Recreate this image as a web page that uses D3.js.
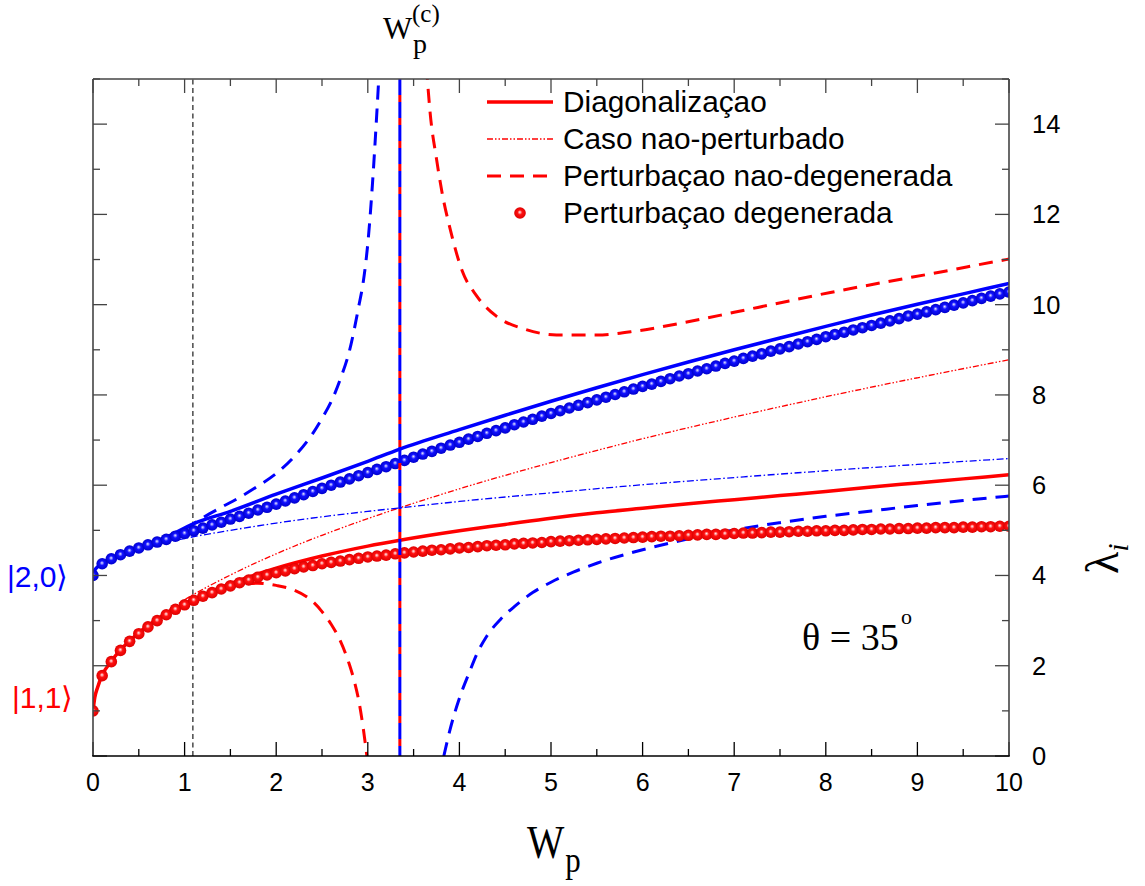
<!DOCTYPE html>
<html><head><meta charset="utf-8">
<script src="https://cdn.jsdelivr.net/npm/d3@7"></script>
<style>body{margin:0;background:#fff}svg{display:block}</style>
</head><body><div id="chart"></div>
<script>
// ---------- data ----------
const W_UNPERT = [0,0.05,0.1,0.2,0.3,0.5,0.75,1,1.5,2,2.5,3,3.5,4,5,6,7,8,9,10];
const L11_UNPERT = [1.00,1.55,1.78,2.10,2.35,2.74,3.13,3.46,4.01,4.48,4.89,5.26,5.60,5.92,6.50,7.03,7.51,7.96,8.38,8.78];
const L20_UNPERT = [4.00,4.18,4.26,4.37,4.45,4.58,4.71,4.82,5.00,5.16,5.30,5.42,5.53,5.64,5.83,6.01,6.17,6.32,6.46,6.59];

const W_DIAG = [0,0.02,0.05,0.1,0.2,0.3,0.5,0.8,1.1,1.5,2,2.5,3,3.35,4,4.5,5,5.5,6,6.5,7,7.5,8,8.5,9,9.5,10];
const L20_DIAG = [4.00,4.12,4.19,4.27,4.38,4.47,4.62,4.85,5.15,5.42,5.80,6.16,6.53,6.80,7.23,7.55,7.86,8.16,8.45,8.73,9.00,9.26,9.52,9.77,10.01,10.24,10.47];
const L11_DIAG = [1.00,1.30,1.52,1.79,2.10,2.35,2.73,3.15,3.47,3.82,4.16,4.43,4.65,4.78,4.99,5.13,5.27,5.39,5.49,5.59,5.68,5.77,5.86,5.96,6.05,6.14,6.23];

const W_ND11_LOW = [1.0,1.2,1.5,1.8,2.0,2.2,2.4,2.5,2.6,2.7,2.8,2.85,2.9,2.95,2.99];
const L_ND11_LOW = [3.33,3.50,3.74,3.83,3.78,3.67,3.42,3.20,2.92,2.55,2.02,1.68,1.24,0.62,0.0];
const W_ND11_UP = [3.62,3.65,3.68,3.75,3.81,3.90,4.03,4.19,4.40,4.71,5.06,5.50,5.94,6.47,7.0,7.52,8.05,8.62,9.27,9.89,10];
const L_ND11_UP = [15.8,15.0,14.26,13.23,12.49,11.67,10.75,10.19,9.75,9.46,9.33,9.33,9.42,9.61,9.83,10.05,10.27,10.49,10.73,10.97,11.01];
const W_ND20_UP = [1.0,1.2,1.4,1.6,1.8,2.0,2.2,2.4,2.5,2.6,2.7,2.8,2.9,2.95,3.0,3.05,3.1,3.13];
const L_ND20_UP = [5.02,5.28,5.51,5.73,5.98,6.26,6.64,7.15,7.48,7.85,8.35,8.98,9.95,10.5,11.35,12.65,14.3,15.4];
const W_ND20_LOW = [3.83,3.9,4.0,4.1,4.2,4.3,4.45,4.6,4.8,5.0,5.25,5.5,6.0,6.5,7.0,7.5,8.0,8.5,9.0,9.5,10];
const L_ND20_LOW = [0.0,0.60,1.28,1.81,2.30,2.66,3.03,3.31,3.62,3.85,4.08,4.27,4.57,4.81,5.01,5.17,5.31,5.43,5.55,5.66,5.76];

const W_DEG = [0,0.1,0.2,0.3,0.4,0.5,0.6,0.7,0.8,0.9,1,1.1,1.2,1.3,1.4,1.5,1.6,1.7,1.8,1.9,2,2.1,2.2,2.3,2.4,2.5,2.6,2.7,2.8,2.9,3,3.1,3.2,3.3,3.4,3.5,3.6,3.7,3.8,3.9,4,4.1,4.2,4.3,4.4,4.5,4.6,4.7,4.8,4.9,5,5.1,5.2,5.3,5.4,5.5,5.6,5.7,5.8,5.9,6,6.1,6.2,6.3,6.4,6.5,6.6,6.7,6.8,6.9,7,7.1,7.2,7.3,7.4,7.5,7.6,7.7,7.8,7.9,8,8.1,8.2,8.3,8.4,8.5,8.6,8.7,8.8,8.9,9,9.1,9.2,9.3,9.4,9.5,9.6,9.7,9.8,9.9,10];
const L20_DEG = [4.00,4.26,4.37,4.46,4.54,4.61,4.68,4.74,4.80,4.87,4.93,4.99,5.05,5.12,5.18,5.25,5.31,5.38,5.45,5.51,5.58,5.65,5.72,5.79,5.86,5.93,6.00,6.07,6.14,6.21,6.28,6.35,6.41,6.48,6.55,6.62,6.69,6.75,6.82,6.89,6.95,7.02,7.08,7.15,7.21,7.27,7.34,7.40,7.46,7.53,7.59,7.65,7.71,7.77,7.83,7.89,7.95,8.01,8.07,8.13,8.19,8.24,8.30,8.36,8.42,8.47,8.53,8.58,8.64,8.70,8.75,8.81,8.86,8.91,8.97,9.02,9.07,9.13,9.18,9.23,9.29,9.34,9.39,9.44,9.49,9.54,9.59,9.64,9.69,9.75,9.79,9.84,9.89,9.94,9.99,10.04,10.09,10.14,10.19,10.24,10.28];
const L11_DEG = [1.00,1.78,2.09,2.34,2.54,2.71,2.86,3.00,3.13,3.25,3.35,3.45,3.54,3.62,3.70,3.77,3.84,3.90,3.96,4.01,4.06,4.10,4.15,4.19,4.22,4.26,4.29,4.32,4.35,4.38,4.41,4.43,4.45,4.48,4.50,4.52,4.54,4.56,4.57,4.59,4.61,4.62,4.64,4.66,4.67,4.68,4.70,4.71,4.72,4.73,4.75,4.76,4.77,4.78,4.79,4.80,4.81,4.82,4.83,4.84,4.85,4.86,4.87,4.87,4.88,4.89,4.90,4.91,4.91,4.92,4.93,4.94,4.94,4.95,4.96,4.96,4.97,4.98,4.98,4.99,4.99,5.00,5.00,5.01,5.02,5.02,5.03,5.03,5.04,5.04,5.05,5.05,5.06,5.06,5.06,5.07,5.07,5.08,5.08,5.09,5.09];

const W_CRIT = 3.35;
const W_MARK = 1.09;
const X_TICKS = [0,1,2,3,4,5,6,7,8,9,10];
const Y_TICKS = [0,2,4,6,8,10,12,14];
const LEGEND_LABELS = ["Diagonalizaçao","Caso nao-perturbado","Perturbaçao nao-degenerada","Perturbaçao degenerada"];

// ---------- setup ----------
const WIDTH = 1145, HEIGHT = 886;
const RED = "#ff0000", BLUE = "#0000ff";
const svg = d3.select("#chart").append("svg").attr("width", WIDTH).attr("height", HEIGHT);
svg.append("rect").attr("width", WIDTH).attr("height", HEIGHT).attr("fill", "#fff");

const x = d3.scaleLinear().domain([0, 10]).range([93, 1009]);
const y = d3.scaleLinear().domain([0, 15]).range([756, 79]);

const defs = svg.append("defs");
defs.append("clipPath").attr("id", "clip").append("rect")
  .attr("x", x(0)).attr("y", y(15)).attr("width", x(10) - x(0)).attr("height", y(0) - y(15));
function grad(id, c0, c1, c2, c3) {
  const g = defs.append("radialGradient").attr("id", id)
    .attr("cx", "50%").attr("cy", "50%").attr("r", "50%").attr("fx", "48%").attr("fy", "42%");
  g.append("stop").attr("offset", "0%").attr("stop-color", c0);
  g.append("stop").attr("offset", "16%").attr("stop-color", c1);
  g.append("stop").attr("offset", "40%").attr("stop-color", c2);
  g.append("stop").attr("offset", "100%").attr("stop-color", c3);
}
grad("gBlue", "#f0f0ff", "#9090ff", "#1010ff", "#0000cc");
grad("gRed", "#fff0f0", "#ff9c9c", "#ff1010", "#dd0000");

const pts = (ws, ls) => ws.map((w, i) => [w, ls[i]]);
const line = d3.line().x(d => x(d[0])).y(d => y(d[1])).curve(d3.curveMonotoneX);
const straight = d3.line().x(d => x(d[0])).y(d => y(d[1]));

const plot = svg.append("g").attr("clip-path", "url(#clip)");

// gray marker line
plot.append("path").attr("d", straight([[W_MARK, 0], [W_MARK, 15]]))
  .attr("fill", "none").attr("stroke", "#555").attr("stroke-width", 1.6).attr("stroke-dasharray", "5,3.5");

// unperturbed (dash-dot)
plot.append("path").attr("d", line(pts(W_UNPERT, L11_UNPERT)))
  .attr("fill", "none").attr("stroke", RED).attr("stroke-width", 1.3).attr("stroke-dasharray", "6,2,1.5,2,1.5,2");
plot.append("path").attr("d", line(pts(W_UNPERT, L20_UNPERT)))
  .attr("fill", "none").attr("stroke", BLUE).attr("stroke-width", 1.3).attr("stroke-dasharray", "7,2.5,1.5,2.5");

// diagonalization (solid)
plot.append("path").attr("d", line(pts(W_DIAG, L20_DIAG)))
  .attr("fill", "none").attr("stroke", BLUE).attr("stroke-width", 3.5);
plot.append("path").attr("d", line(pts(W_DIAG, L11_DIAG)))
  .attr("fill", "none").attr("stroke", RED).attr("stroke-width", 3.5);

// non-degenerate perturbation (dashed)
const DASH = "14,9";
[[W_ND11_LOW, L_ND11_LOW, RED], [W_ND11_UP, L_ND11_UP, RED],
 [W_ND20_UP, L_ND20_UP, BLUE], [W_ND20_LOW, L_ND20_LOW, BLUE]].forEach(([ws, ls, c]) => {
  plot.append("path").attr("d", line(pts(ws, ls)))
    .attr("fill", "none").attr("stroke", c).attr("stroke-width", 3).attr("stroke-dasharray", DASH);
});

// degenerate perturbation (balls)
const R_BALL = 5.8;
plot.append("g").selectAll("circle").data(pts(W_DEG, L20_DEG)).join("circle")
  .attr("cx", d => x(d[0])).attr("cy", d => y(d[1])).attr("r", R_BALL).attr("fill", "url(#gBlue)");
plot.append("g").selectAll("circle").data(pts(W_DEG, L11_DEG)).join("circle")
  .attr("cx", d => x(d[0])).attr("cy", d => y(d[1])).attr("r", R_BALL).attr("fill", "url(#gRed)");

// critical vertical line (red under blue dashes)
plot.append("path").attr("d", straight([[W_CRIT, 15], [W_CRIT, 0]]))
  .attr("stroke", RED).attr("stroke-width", 3).attr("stroke-dasharray", "7,16").attr("stroke-dashoffset", -16);
plot.append("path").attr("d", straight([[W_CRIT, 15], [W_CRIT, 0]]))
  .attr("stroke", BLUE).attr("stroke-width", 3).attr("stroke-dasharray", "16,7");

// ---------- axes ----------
const axG = svg.append("g");
const FONT = "'Liberation Sans', Arial, sans-serif";
const SERIF = "'Liberation Serif', 'Times New Roman', serif";
const minorX = d3.range(0, 21).map(i => i / 2);
const minorY = d3.range(0, 16);
minorX.forEach(v => {
  const len = Number.isInteger(v) ? 14 : 7;
  axG.append("line").attr("x1", x(v)).attr("x2", x(v)).attr("y1", y(0)).attr("y2", y(0) - len).attr("stroke", "#000").attr("stroke-width", 1.3);
  axG.append("line").attr("x1", x(v)).attr("x2", x(v)).attr("y1", y(15)).attr("y2", y(15) + len).attr("stroke", "#444").attr("stroke-width", 1.3);
});
minorY.forEach(v => {
  const len = v % 2 === 0 ? 14 : 7;
  axG.append("line").attr("x1", x(0)).attr("x2", x(0) + len).attr("y1", y(v)).attr("y2", y(v)).attr("stroke", "#444").attr("stroke-width", 1.3);
  axG.append("line").attr("x1", x(10)).attr("x2", x(10) - len).attr("y1", y(v)).attr("y2", y(v)).attr("stroke", "#444").attr("stroke-width", 1.3);
});
axG.append("line").attr("x1", x(0)).attr("x2", x(10)).attr("y1", y(15)).attr("y2", y(15)).attr("stroke", "#444").attr("stroke-width", 1.6);
axG.append("line").attr("x1", x(0)).attr("x2", x(0)).attr("y1", y(0)).attr("y2", y(15)).attr("stroke", "#444").attr("stroke-width", 1.6);
axG.append("line").attr("x1", x(10)).attr("x2", x(10)).attr("y1", y(0)).attr("y2", y(15)).attr("stroke", "#444").attr("stroke-width", 1.6);
axG.append("line").attr("x1", x(0) - 0.8).attr("x2", x(10) + 0.8).attr("y1", y(0)).attr("y2", y(0)).attr("stroke", "#000").attr("stroke-width", 1.6);

axG.selectAll("text.xt").data(X_TICKS).join("text")
  .attr("x", d => x(d)).attr("y", 791).attr("text-anchor", "middle")
  .attr("font-family", FONT).attr("font-size", 25).text(d => d);
axG.selectAll("text.yt").data(Y_TICKS).join("text")
  .attr("x", 1032).attr("y", d => y(d) + 9).attr("text-anchor", "start")
  .attr("font-family", FONT).attr("font-size", 25.5).text(d => d);

// axis titles
const xt = svg.append("text").attr("transform", "translate(527,858) scale(0.86,1)").attr("font-family", SERIF).attr("font-size", 46);
xt.append("tspan").text("W");
xt.append("tspan").attr("font-size", 36).attr("dy", 14).attr("dx", 1).text("p");

const yt = svg.append("text").attr("transform", "translate(1118,574) rotate(-90)")
  .attr("font-family", SERIF).attr("font-size", 46);
yt.append("tspan").text("λ");
yt.append("tspan").attr("font-size", 30).attr("font-style", "italic").attr("dy", 10).text("i");

// top label W_p^(c)
svg.append("text").attr("x", 383).attr("y", 39).attr("font-family", SERIF).attr("font-size", 31).text("W");
svg.append("text").attr("x", 413).attr("y", 53).attr("font-family", SERIF).attr("font-size", 28).text("p");
svg.append("text").attr("x", 412).attr("y", 22).attr("font-family", SERIF).attr("font-size", 25).text("(c)");

// theta annotation
svg.append("text").attr("x", 802).attr("y", 650).attr("font-family", SERIF).attr("font-size", 38).text("θ = 35");
svg.append("text").attr("x", 901).attr("y", 624).attr("font-family", SERIF).attr("font-size", 22).text("o");

// state labels
svg.append("text").attr("x", 7).attr("y", 587).attr("font-family", FONT).attr("font-size", 30).attr("fill", BLUE).text("|2,0⟩");
svg.append("text").attr("x", 12).attr("y", 708).attr("font-family", FONT).attr("font-size", 30).attr("fill", RED).text("|1,1⟩");

// ---------- legend ----------
const lg = svg.append("g");
const LX0 = 487, LX1 = 553, TX = 563;
const rows = [102, 139, 176, 213];
lg.append("line").attr("x1", LX0).attr("x2", LX1).attr("y1", rows[0]).attr("y2", rows[0]).attr("stroke", RED).attr("stroke-width", 3.5);
lg.append("line").attr("x1", LX0).attr("x2", LX1).attr("y1", rows[1]).attr("y2", rows[1]).attr("stroke", RED).attr("stroke-width", 1.3).attr("stroke-dasharray", "6,2,1.5,2,1.5,2");
lg.append("line").attr("x1", LX0).attr("x2", LX1).attr("y1", rows[2]).attr("y2", rows[2]).attr("stroke", RED).attr("stroke-width", 3).attr("stroke-dasharray", "14,9");
lg.append("circle").attr("cx", 520).attr("cy", rows[3]).attr("r", R_BALL).attr("fill", "url(#gRed)");
lg.selectAll("text").data(LEGEND_LABELS).join("text")
  .attr("x", TX).attr("y", (d, i) => rows[i] + 10)
  .attr("font-family", FONT).attr("font-size", 29.8).text(d => d);
</script>
</body></html>
